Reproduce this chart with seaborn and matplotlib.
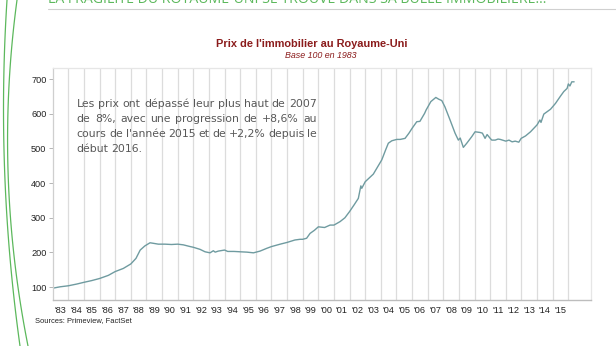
import numpy as np
import matplotlib
matplotlib.use("Agg")
import matplotlib.pyplot as plt
from matplotlib.lines import Line2D
import seaborn as sns

# ---- data ----
years = [1983.0, 1983.47, 1984.0, 1984.54, 1985.0, 1985.5, 1986.0, 1986.56, 1987.0, 1987.52,
         1988.0, 1988.33, 1988.6, 1988.9, 1989.23, 1989.5, 1989.76, 1990.19, 1990.6, 1991.0,
         1991.36, 1991.8, 1992.0, 1992.43, 1992.75, 1993.07, 1993.28, 1993.4, 1993.6, 1994.0,
         1994.2, 1994.6, 1995.0, 1995.43, 1995.85, 1996.27, 1996.7, 1997.0, 1997.56, 1998.0,
         1998.5, 1998.83, 1999.0, 1999.25, 1999.47, 1999.75, 2000.0, 2000.4, 2000.75, 2001.0,
         2001.39, 2001.7, 2002.0, 2002.3, 2002.56, 2002.72, 2002.78, 2003.0, 2003.52, 2004.06,
         2004.3, 2004.48, 2004.7, 2005.02, 2005.24, 2005.55, 2005.8, 2006.0, 2006.3, 2006.5,
         2006.8, 2006.9, 2007.2, 2007.52, 2007.7, 2007.9, 2008.1, 2008.43, 2008.75, 2008.96,
         2009.08, 2009.28, 2009.5, 2009.82, 2010.03, 2010.35, 2010.5, 2010.67, 2010.8, 2011.0,
         2011.1, 2011.32, 2011.5, 2011.64, 2012.0, 2012.2, 2012.4, 2012.6, 2012.83, 2012.98,
         2013.26, 2013.58, 2014.0, 2014.18, 2014.25, 2014.43, 2014.86, 2015.18, 2015.5, 2015.71,
         2015.92, 2016.0, 2016.1, 2016.22, 2016.37]
index_values = [97, 101, 104, 109, 114, 119, 125, 134, 145, 154,
                167, 183, 207, 219, 228, 226, 224, 224, 223, 224,
                222, 217, 215, 209, 202, 199, 205, 201, 204, 207,
                203, 203, 202, 201, 199, 204, 212, 217, 224, 229,
                236, 238, 238, 241, 255, 264, 274, 272, 279, 279,
                289, 300, 318, 338, 356, 392, 385, 404, 426, 467,
                495, 515, 522, 526, 526, 529, 544, 558, 577, 578,
                601, 611, 635, 647, 642, 638, 620, 582, 544, 524,
                530, 503, 515, 534, 548, 546, 544, 529, 540, 529,
                524, 524, 527, 526, 521, 524, 519, 521, 518, 529,
                536, 548, 568, 582, 575, 599, 613, 630, 651, 664,
                673, 686, 680, 692, 692]
y_ticks = [100, 200, 300, 400, 500, 600, 700]
year_labels = ["'83", "'84", "'85", "'86", "'87", "'88", "'89", "'90", "'91", "'92", "'93",
               "'94", "'95", "'96", "'97", "'98", "'99", "'00", "'01", "'02", "'03", "'04",
               "'05", "'06", "'07", "'08", "'09", "'10", "'11", "'12", "'13", "'14", "'15"]
note_lines = ["Les prix ont dépassé leur plus haut de 2007",
              "de 8%, avec une progression de +8,6% au",
              "cours de l'année 2015 et de +2,2% depuis le",
              "début 2016."]

sns.set_theme(style="white")
plt.rcParams['font.family'] = ['Liberation Sans', 'DejaVu Sans']

W, H = 616, 346
fig = plt.figure(figsize=(W / 100, H / 100), dpi=100)
fig.patch.set_facecolor("white")

def fx(px):
    return px / W

def fy(py):
    return 1 - py / H

left, right, top, bottom = 52.7, 591.0, 68.3, 300.0
ax = fig.add_axes([fx(left), fy(bottom), (right - left) / W, (bottom - top) / H])

sns.lineplot(x=years, y=index_values, ax=ax, color="#6f9ba0", linewidth=1.0)

ax.set_xlim(1983.0, 2017.45)
ax.set_ylim(63, 731)

# year boundaries -> gridlines, labels at mid-year
ax.set_xticks(list(range(1984, 2017)))
ax.set_xticklabels([])
ax.set_xticks([1983.5 + i for i in range(len(year_labels))], minor=True)
ax.set_xticklabels(year_labels, minor=True)
ax.tick_params(axis="x", which="both", length=0, labelsize=6.6, colors="#222222", pad=4)
ax.xaxis.grid(True, which="major", color="#dcdcdc", linewidth=0.9)
ax.yaxis.grid(False)

ax.set_yticks(y_ticks)
ax.set_yticklabels([str(v) for v in y_ticks])
ax.tick_params(axis="y", length=3, width=0.6, color="#aaaaaa", labelsize=6.6,
               labelcolor="#222222", pad=1.5, left=True)

for side in ["top", "right"]:
    ax.spines[side].set_color("#e6e6e6")
    ax.spines[side].set_linewidth(0.9)
ax.spines["left"].set_color("#cfcfcf")
ax.spines["left"].set_linewidth(0.9)
ax.spines["bottom"].set_color("#bdbdbd")
ax.spines["bottom"].set_linewidth(1.0)
ax.set_xlabel("")
ax.set_ylabel("")

# titles
fig.text(fx(312), fy(44), "Prix de l'immobilier au Royaume-Uni", ha="center", va="center",
         fontsize=7.9, fontweight="bold", color="#8b1c1c")
fig.text(fx(321), fy(55.5), "Base 100 en 1983", ha="center", va="center",
         fontsize=6.4, fontstyle="italic", color="#8b1c1c")
fig.text(fx(35), fy(320.5), "Sources: Primeview, FactSet", ha="left", va="center",
         fontsize=5.4, color="#222222")

# header (cut off at the top)
fig.text(fx(48), fy(-1.0), "LA FRAGILITÉ DU ROYAUME-UNI SE TROUVE DANS SA BULLE IMMOBILIÈRE...",
         ha="left", va="center", fontsize=10.2, color="#5cb85c",
         family=["Open Sans", "DejaVu Sans"])
fig.add_artist(Line2D([fx(48), fx(616)], [fy(9), fy(9)], transform=fig.transFigure,
                      color="#d0d0d0", linewidth=0.8))

# decorative green curves on the left
yy = np.linspace(0, 346, 60)
for pts in ([(7, 0), (4, 150), (20, 346)], [(17, 0), (8, 170), (28, 346)]):
    py = [p[1] for p in pts]
    px = [p[0] for p in pts]
    c = np.polyfit(py, px, 2)
    fig.add_artist(Line2D(fx(np.polyval(c, yy)), fy(yy), transform=fig.transFigure,
                          color="#5cb85c", linewidth=0.9))

# justified annotation
renderer = fig.canvas.get_renderer()
x0, x1 = 76.7, 316.7
line_y = [107.3, 122.3, 137.3, 152.3]  # baselines
note_kw = dict(fontsize=7.8, color="#585858", family=["DejaVu Sans"],
               fontweight="normal", va="baseline", ha="left")
for i, (line, ly) in enumerate(zip(note_lines, line_y)):
    words = line.split(" ")
    texts = [fig.text(0, fy(ly), w, **note_kw) for w in words]
    widths = [t.get_window_extent(renderer).width for t in texts]
    last = (i == len(note_lines) - 1)
    if last or len(words) == 1:
        probe = fig.text(0, 0, "a", **note_kw)
        space = probe.get_window_extent(renderer).width * 0.42
        probe.remove()
    else:
        space = (x1 - x0 - sum(widths)) / (len(words) - 1)
    cx = x0
    for t, w in zip(texts, widths):
        t.set_x(fx(cx))
        cx += w + space

fig.savefig("out.png", dpi=100, facecolor="white")
